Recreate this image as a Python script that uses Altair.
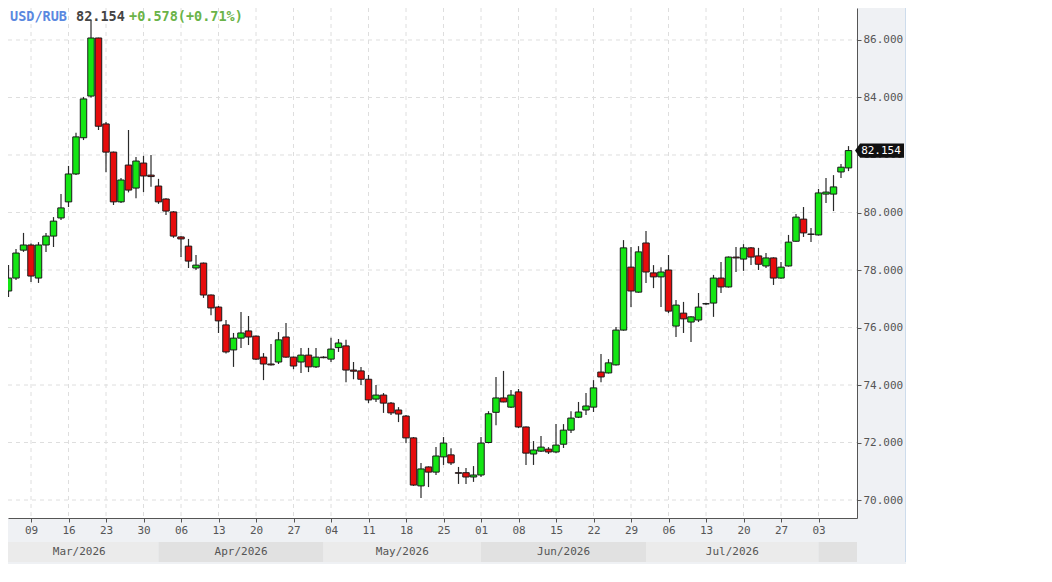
import altair as alt
import pandas as pd

# ---------------- data ----------------
dates = pd.bdate_range("2026-03-04", "2026-08-07")

opens = [77.27, 77.72, 78.69, 78.87, 77.72, 78.87, 79.18, 79.81, 80.37, 81.34,
         82.60, 84.05, 86.07, 83.08, 82.10, 80.37, 81.65, 80.85, 81.72, 81.30,
         80.92, 80.47, 80.02, 79.15, 78.83, 78.07, 78.24, 77.13, 76.71, 76.09,
         75.22, 75.63, 75.88, 75.70, 74.97, 74.73, 74.80, 75.67, 74.97, 74.80,
         75.04, 74.63, 74.97, 74.90, 75.30, 75.36, 74.52, 74.49, 74.20, 73.51,
         73.65, 73.37, 73.13, 72.92, 72.16, 70.49, 71.15, 70.97, 71.50, 71.57,
         70.95, 70.95, 70.80, 70.87, 72.00, 73.05, 73.55, 73.23, 73.76, 72.54,
         71.60, 71.70, 71.77, 71.67, 71.94, 72.43, 72.88, 73.13, 73.23, 74.45,
         74.42, 74.70, 75.91, 78.10, 77.23, 78.94, 77.90, 77.76, 78.00, 76.05,
         76.50, 76.19, 76.26, 76.82, 76.85, 77.72, 77.41, 78.45, 78.38, 78.77,
         78.49, 78.14, 78.42, 77.72, 78.14, 79.00, 79.77, 79.25, 79.22, 80.64,
         80.64, 81.41, 81.55]
highs = [78.17, 78.73, 79.29, 78.92, 78.97, 79.29, 79.84, 80.64, 81.62, 82.77,
         84.02, 86.70, 86.08, 83.15, 82.12, 81.20, 82.87, 81.93, 81.97, 82.00,
         81.17, 80.50, 80.05, 79.17, 79.08, 78.52, 78.26, 77.15, 76.75, 76.26,
         75.81, 76.54, 76.40, 75.72, 75.11, 75.43, 75.84, 76.16, 74.99, 75.29,
         75.29, 75.29, 75.00, 75.64, 75.60, 75.57, 74.80, 74.63, 74.35, 74.00,
         73.72, 73.41, 73.23, 72.96, 72.19, 71.29, 71.17, 71.84, 72.19, 71.80,
         71.15, 71.11, 71.18, 72.19, 73.09, 74.28, 74.49, 73.83, 73.86, 72.56,
         72.05, 72.23, 71.84, 72.64, 72.64, 73.09, 73.41, 73.72, 74.17, 75.08,
         74.90, 76.02, 79.04, 78.80, 78.83, 79.36, 78.17, 78.10, 78.52, 76.96,
         76.89, 76.39, 77.20, 76.86, 77.83, 78.28, 78.47, 78.80, 78.90, 78.80,
         78.77, 78.59, 78.44, 78.28, 79.22, 79.95, 80.19, 79.46, 80.82, 81.20,
         81.30, 81.69, 82.31]
lows = [77.06, 77.65, 78.63, 77.58, 77.55, 78.63, 78.80, 79.74, 80.19, 81.30,
        82.52, 84.00, 82.87, 81.40, 80.26, 80.33, 80.70, 80.50, 80.71, 80.90,
        80.30, 79.91, 79.12, 78.45, 78.07, 78.00, 77.03, 76.43, 75.81, 75.10,
        74.63, 75.29, 75.39, 74.87, 74.17, 74.68, 74.73, 74.95, 74.55, 74.42,
        74.45, 74.59, 74.93, 74.80, 75.15, 74.10, 74.20, 74.00, 73.37, 73.41,
        73.03, 72.96, 72.71, 71.98, 70.49, 70.07, 70.45, 70.87, 71.22, 71.22,
        70.56, 70.56, 70.63, 70.80, 71.97, 72.60, 73.40, 73.20, 72.50, 71.22,
        71.22, 71.67, 71.60, 71.63, 71.81, 72.33, 72.85, 72.96, 73.06, 74.10,
        74.40, 74.68, 75.89, 76.71, 77.21, 77.55, 77.37, 76.71, 76.50, 75.67,
        75.81, 75.50, 76.19, 76.78, 76.37, 77.20, 77.39, 77.93, 77.97, 78.17,
        78.00, 78.07, 77.48, 77.70, 78.12, 78.98, 79.15, 78.97, 79.20, 80.33,
        80.05, 81.20, 81.44]
closes = [77.72, 78.59, 78.87, 77.79, 78.87, 79.18, 79.70, 80.16, 81.34, 82.63,
          83.95, 86.07, 83.00, 82.10, 80.37, 81.13, 80.78, 81.79, 81.27, 81.25,
          80.37, 80.05, 79.18, 79.08, 78.31, 78.17, 77.13, 76.68, 76.23, 75.15,
          75.63, 75.81, 75.67, 74.90, 74.73, 74.70, 75.57, 74.97, 74.66, 75.04,
          74.63, 74.97, 74.95, 75.25, 75.46, 74.52, 74.48, 74.20, 73.48, 73.65,
          73.37, 73.03, 72.99, 72.16, 70.52, 71.08, 70.97, 71.53, 71.98, 71.29,
          70.93, 70.80, 70.87, 71.98, 73.00, 73.55, 73.41, 73.65, 72.54, 71.63,
          71.74, 71.84, 71.67, 71.91, 72.43, 72.85, 73.06, 73.27, 73.90, 74.28,
          74.77, 75.91, 78.77, 77.27, 78.63, 77.93, 77.76, 77.93, 76.57, 76.78,
          76.30, 76.37, 76.71, 76.83, 77.72, 77.41, 78.45, 78.42, 78.77, 78.45,
          78.20, 78.42, 77.72, 78.10, 78.97, 79.84, 79.29, 79.24, 80.68, 80.71,
          80.89, 81.576, 82.154]

tick_labels = ["09", "16", "23", "30", "06", "13", "20", "27", "04", "11", "18",
               "25", "01", "08", "15", "22", "29", "06", "13", "20", "27", "03"]
y_ticks = [70, 72, 74, 76, 78, 80, 82, 84, 86]
month_names = ["Mar/2026", "Apr/2026", "May/2026", "Jun/2026", "Jul/2026", ""]
symbol = "USD/RUB"

# ---------------- layout constants ----------------
W, H = 849, 510
X_MIN, X_MAX = -3.067, 110.133
X_VIS_LEFT = -4.137
Y_MIN, Y_MAX = 69.374, 87.113
GREEN, RED = "#14e614", "#e60c0c"
FONT = "DejaVu Sans Mono"

# business-day index, 0 = first Monday tick (2026-03-09)
origin = list(dates).index(pd.Timestamp("2026-03-09"))
d_index = [i - origin for i in range(len(dates))]

candles = pd.DataFrame({"d": d_index, "open": opens, "high": highs,
                        "low": lows, "close": closes})

tick_pos = [d for dt, d in zip(dates, d_index) if dt.weekday() == 0]

# month bands
starts = []
seen = []
for dt, d in zip(dates, d_index):
    if dt.month not in seen:
        seen.append(dt.month)
        starts.append(d)
band_start = list(starts)
band_start[0] = X_VIS_LEFT
band_end = band_start[1:] + [X_MAX]
bands = pd.DataFrame({
    "start": band_start,
    "end": band_end,
    "mid": [(a + b) / 2 for a, b in zip(band_start, band_end)],
    "name": month_names[:len(band_start)],
    "shade": ["a" if i % 2 == 0 else "b" for i in range(len(band_start))],
})

xscale = alt.Scale(domain=[X_MIN, X_MAX], nice=False, zero=False)
yscale = alt.Scale(domain=[Y_MIN, Y_MAX], nice=False, zero=False)

label_expr = "[" + ",".join("'%s'" % t for t in tick_labels) + "][round(datum.value/5)]"
xaxis = alt.Axis(values=tick_pos, labelExpr=label_expr, grid=False, orient="bottom",
                 domainColor="#555555", tickColor="#555555", tickSize=4,
                 labelPadding=2, labelFont=FONT, labelFontSize=11,
                 labelColor="#555555", labelFlush=False, labelOverlap=False)
yaxis = alt.Axis(values=y_ticks, format=".3f", grid=False, orient="right",
                 domainColor="#555555", tickColor="#555555", tickSize=4,
                 labelPadding=2, labelFont=FONT, labelFontSize=11,
                 labelColor="#555555", labelFlush=False, labelOverlap=False)

X = lambda f: alt.X(f, scale=xscale, axis=xaxis, title=None)
Y = lambda f: alt.Y(f, scale=yscale, axis=yaxis, title=None)

dummy = pd.DataFrame({"k": [0]})

# grid
hgrid = alt.Chart(pd.DataFrame({"v": y_ticks})).mark_rule(
    color="#dedede", strokeDash=[4, 4], strokeWidth=1
).encode(y=Y("v:Q"), x=alt.value(0), x2=alt.value(W))
vgrid = alt.Chart(pd.DataFrame({"t": tick_pos})).mark_rule(
    color="#dedede", strokeDash=[4, 4], strokeWidth=1
).encode(x=X("t:Q"), y=alt.value(0), y2=alt.value(H))

# month bands
band_rect = alt.Chart(bands).mark_rect().encode(
    x=X("start:Q"), x2="end:Q",
    y=alt.value(H + 24), y2=alt.value(H + 44),
    fill=alt.Fill("shade:N", scale=alt.Scale(domain=["a", "b"],
                                              range=["#ebebeb", "#e1e1e1"]),
                  legend=None),
)
band_text = alt.Chart(bands).mark_text(
    font=FONT, fontSize=11, color="#555555", baseline="middle", align="center"
).encode(x=X("mid:Q"), y=alt.value(H + 34), text="name:N")

# candles
wicks = alt.Chart(candles).mark_rule(color="#2a2a2a", strokeWidth=1.2, clip=True).encode(
    x=X("d:Q"), y=Y("low:Q"), y2="high:Q")
bodies = alt.Chart(candles).transform_calculate(
    x0="datum.d - 0.43", x1="datum.d + 0.43"
).mark_rect(stroke="#1a1a1a", strokeWidth=1, clip=True).encode(
    x=X("x0:Q"), x2="x1:Q", y=Y("open:Q"), y2="close:Q",
    fill=alt.condition("datum.close >= datum.open", alt.value(GREEN), alt.value(RED)),
)

# last price tag
last = closes[-1]
prev = closes[-2]
chg = last - prev
pct = chg / prev * 100
last_df = pd.DataFrame({"close": [last], "label": [f"{last:.3f}"]})
tag_path = "M -1.13 0 L -0.91 -0.31 L 1 -0.31 L 1 0.31 L -0.91 0.31 Z"
tag = alt.Chart(last_df).mark_point(
    shape=tag_path, filled=True, fill="#111111", opacity=1, size=2116, strokeWidth=0
).encode(x=alt.value(W + 24), y=Y("close:Q"))
tag_text = alt.Chart(last_df).mark_text(
    font=FONT, fontSize=11, color="white", align="center", baseline="middle", dy=0.5
).encode(x=alt.value(W + 24), y=Y("close:Q"), text="label:N")

# title parts
title_parts = [
    (symbol, "#5a88e0", 2),
    (f"{last:.3f}", "#444444", 68),
    (f"{chg:+.3f}({pct:+.2f}%)", "#6ab348", 121),
]
titles = [
    alt.Chart(dummy).mark_text(
        text=t, color=c, font=FONT, fontSize=13.5, fontWeight="bold",
        align="left", baseline="middle"
    ).encode(x=alt.value(xp), y=alt.value(9))
    for t, c, xp in title_parts
]

border = alt.Chart(dummy).mark_rule(color="#cddcec", strokeWidth=1).encode(
    x=alt.value(W + 48.5), y=alt.value(0), y2=alt.value(H + 44))

chart = alt.layer(
    band_rect, band_text, hgrid, vgrid, wicks, bodies, tag, tag_text, border, *titles
).properties(
    width=W, height=H,
    autosize=alt.AutoSizeParams(type="none"),
    padding={"left": 0, "top": 0, "right": 49, "bottom": 46},
    background="#eff1f4",
).configure_view(fill="white", stroke=None)

chart.save("out.html", embed_options={"renderer": "svg", "actions": False})
